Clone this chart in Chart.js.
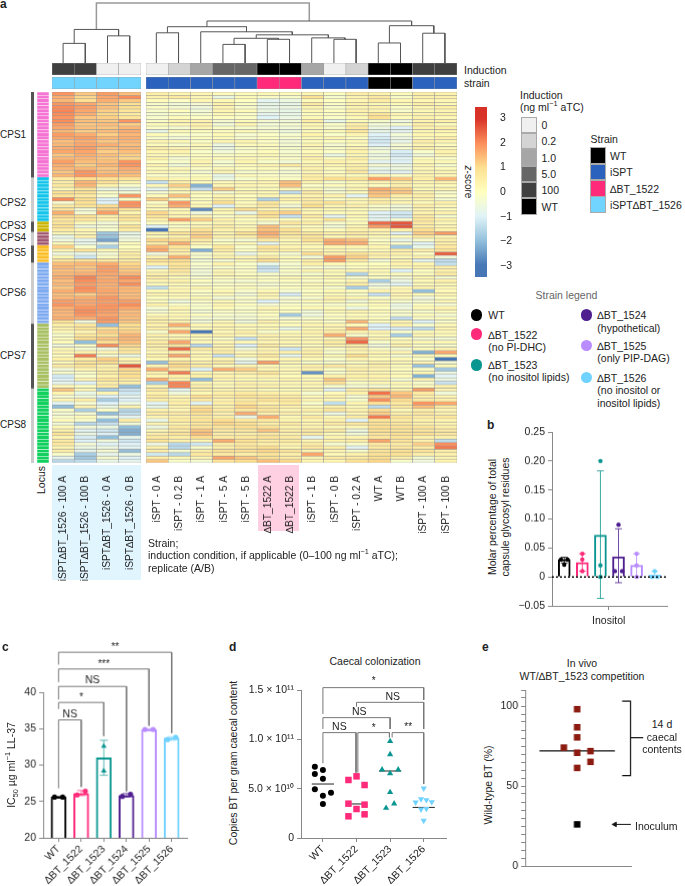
<!DOCTYPE html>
<html>
<head>
<meta charset="utf-8">
<title>Inositol lipids and capsule</title>
<script src="https://cdn.jsdelivr.net/npm/chart.js@4"></script>
<style>
html, body { margin: 0; background: #fff; }
#page { position: relative; width: 685px; height: 886px; overflow: hidden; font-family: "Liberation Sans", Arial, sans-serif; color: #222; }
canvas { position: absolute; }
.t { position: absolute; white-space: nowrap; line-height: 1; }
.box { position: absolute; box-sizing: border-box; }
sup { font-size: 70%; line-height: 0; }
sub { font-size: 70%; line-height: 0; }
</style>
</head>
<body>
<div id="page"></div>
<script>
// ---------- panel a: column info ----------
const leftColumns = ["iSPT∆BT_1526 - 100 A", "iSPT∆BT_1526 - 100 B", "iSPT∆BT_1526 - 0 A", "iSPT∆BT_1526 - 0 B"];
const rightColumns = ["iSPT - 0 A", "iSPT - 0.2 B", "iSPT - 1 A", "iSPT - 5 A", "iSPT - 5 B", "∆BT_1522 A", "∆BT_1522 B",
    "iSPT - 1 B", "iSPT - 0 B", "iSPT - 0.2 A", "WT A", "WT B", "iSPT - 100 A", "iSPT - 100 B"];
const leftInduction = ["100", "100", "0", "0"];
const rightInduction = ["0", "0.2", "1.0", "5.0", "5.0", "WT", "WT", "1.0", "0", "0.2", "WT", "WT", "100", "100"];
const leftStrain = ["iSPT∆BT_1526", "iSPT∆BT_1526", "iSPT∆BT_1526", "iSPT∆BT_1526"];
const rightStrain = ["iSPT", "iSPT", "iSPT", "iSPT", "iSPT", "∆BT_1522", "∆BT_1522", "iSPT", "iSPT", "iSPT", "WT", "WT", "iSPT", "iSPT"];

// dendrogram, hclust style: leaves are 0..17, negative numbers point to an earlier merge (-1 is the first)
const dendroMerges = [
    [0, 1, 19.3], [2, 3, 26.7], [-1, -2, 33],
    [4, 5, 29.7], [7, 8, 18.3], [9, 10, 23.3], [-5, -6, 24.3], [12, 13, 23.3], [11, -8, 24.7], [-7, -9, 27.7], [6, -10, 30.7], [-4, -11, 35.7],
    [14, 15, 19.7], [16, 17, 29.3], [-13, -14, 36.7], [-12, -15, 41.3], [-3, -16, 59]
];

// z-score x 10, per row: 4 left columns then 14 right columns
const zCPS1 = [
    [19,13,18,14, 5,3,3,1,1,2,1,3,0,5,4,1,5,4],
    [16,11,17,20, 4,6,2,-6,1,-1,-2,9,-2,3,6,-1,4,4],
    [15,10,16,13, 1,-1,3,2,0,-9,-6,1,0,3,6,3,3,3],
    [19,17,13,9, -2,-4,-3,4,-1,-7,-7,6,-1,4,2,1,5,2],
    [20,18,14,10, -1,-3,-5,3,-2,-7,-6,3,-2,3,4,-1,3,5],
    [21,17,12,8, -2,0,-4,3,1,-6,-7,2,0,4,3,-2,2,3],
    [20,16,11,6, -3,-2,-2,2,-1,-8,-7,0,-1,3,8,3,3,4],
    [19,13,12,8, -2,1,-1,0,-1,-10,-6,2,-1,2,10,1,4,2],
    [20,14,13,19, -1,3,3,-3,1,-3,-4,5,-7,1,-2,-5,3,4],
    [18,13,14,12, 1,2,4,-4,3,-4,-3,3,-1,5,-4,-2,5,1],
    [17,14,13,15, -1,-3,3,-1,-2,-3,-4,2,-2,6,-6,-10,4,5],
    [15,12,14,16, -7,1,0,0,1,-2,-5,1,1,7,-7,-8,2,3],
    [18,16,12,15, 2,-2,-2,2,-3,-1,-3,4,-2,3,-10,-4,3,2],
    [17,18,15,16, -2,-4,0,1,-2,0,-2,2,3,0,-11,-6,2,5],
    [14,16,13,15, 3,2,-1,3,3,-1,-4,1,0,2,-12,-7,5,3],
    [15,17,16,14, 1,-2,2,-6,1,1,-3,3,-3,1,-10,-3,3,1],
    [16,18,14,15, 5,3,1,-6,-1,0,-2,2,-1,3,-5,-3,5,2],
    [17,17,12,14, 3,4,-2,-4,-2,1,-3,1,-1,4,-4,-11,-2,4],
    [13,16,14,12, 2,1,0,-1,1,2,-2,3,-6,2,-6,-12,-4,3],
    [15,15,13,11, 4,-3,1,1,2,1,-1,5,1,5,-4,-9,1,-1],
    [18,14,14,19, 0,-2,3,-3,3,-2,-4,2,4,3,-9,-10,2,2],
    [16,12,15,19, 3,-4,2,-2,1,3,6,3,3,4,-3,-6,3,-2],
    [15,15,13,16, 1,2,-1,2,0,1,-2,4,1,5,-7,-5,2,1],
    [13,19,14,15, 2,1,-3,3,-2,-1,-3,3,0,6,-8,-9,3,3],
    [15,19,16,14, -1,-2,0,-7,1,-1,-2,5,2,1,2,-1,4,2]
];
const zCPS2 = [
    [6,10,9,8, 5,2,2,-6,-2,1,-1,6,10,9,18,13,5,15],
    [5,15,9,3, -13,5,1,2,2,3,14,3,-2,2,3,5,3,4],
    [7,15,4,-2, 2,12,-22,3,3,2,14,-1,1,2,0,4,2,1],
    [2,8,-6,-7, -8,3,-13,12,1,1,2,2,-3,3,16,12,2,3],
    [9,9,-1,-3, -3,2,1,-3,3,2,-14,6,-2,1,14,13,4,-2],
    [8,6,-2,19, 1,14,0,3,0,3,2,4,4,-9,13,5,5,-1],
    [20,10,-10,0, 12,1,0,4,1,-16,4,5,-1,2,4,2,3,-3],
    [-3,9,-10,20, -1,19,1,10,1,8,1,7,9,3,6,3,2,5],
    [6,8,10,19, 3,16,2,-10,2,7,-4,10,3,4,-1,-4,5,2],
    [8,-4,12,8, 1,1,-27,3,10,3,4,2,2,1,-2,-4,3,0],
    [16,-3,18,3, 11,3,-5,2,-7,10,12,3,1,2,-10,-12,4,4],
    [11,9,5,9, 8,3,3,-1,3,9,-13,6,-8,2,-9,-12,6,-2],
    [7,7,3,8, 4,18,12,4,0,2,1,3,9,1,-8,-3,7,4]
];
const zCPS3 = [
    [8,1,-4,2, 0,1,1,3,1,-3,7,5,-2,1,24,26,6,2],
    [9,-5,-3,8, -10,-1,3,5,2,14,2,1,-4,3,18,26,5,3],
    [6,3,-2,6, -30,3,9,4,4,14,9,3,1,4,4,5,10,4]
];
const zCPS4 = [
    [2,2,-18,-7, 3,8,11,3,9,16,8,7,4,6,3,-9,12,18],
    [-7,4,-19,-6, 2,4,12,4,5,14,6,8,2,4,2,1,7,3],
    [-5,-8,-24,-4, 11,10,6,-2,-3,6,2,9,16,14,-1,-7,-2,5],
    [2,-7,-6,1, 6,16,3,1,2,-8,2,4,17,16,1,-2,-9,5]
];
const zCPS5 = [
    [12,-2,-17,0, 15,8,-1,7,-2,9,3,2,3,3,3,-18,-7,7],
    [3,8,2,3, 17,6,-22,6,0,7,5,3,3,1,2,5,5,8],
    [-5,-7,-3,6, -5,5,-2,2,-7,1,-3,10,5,9,5,4,0,25],
    [2,-12,-1,5, 4,16,-2,4,3,6,1,-4,18,12,4,2,4,-4],
    [8,9,7,6, 9,10,-4,-3,2,10,0,5,18,6,-4,3,-8,-14]
];
const zCPS6 = [
    [14,15,16,11, 5,8,-2,4,-2,-7,-3,5,2,1,0,4,3,-14],
    [15,13,18,12, -10,8,-3,-2,-1,-14,-2,-2,-3,0,1,2,4,5],
    [14,14,18,13, 2,7,-4,2,-1,-12,-1,3,2,3,2,-10,0,4],
    [15,16,17,15, 4,5,-4,3,0,-2,-2,-2,1,-16,1,1,1,6],
    [16,21,16,20, 6,1,-2,1,1,0,2,1,3,-2,0,-3,3,-3],
    [14,20,17,17, 3,4,0,-2,-3,-1,0,-1,0,3,-17,-6,2,4],
    [15,18,16,20, 1,2,-2,-1,-1,-3,-1,2,2,5,-6,-9,2,3],
    [13,20,16,15, -14,2,3,0,1,-1,0,1,-2,-17,-3,2,4,2],
    [16,19,17,15, 2,3,-1,2,-2,2,-3,-1,2,1,4,3,-20,1],
    [14,12,16,14, 3,2,-1,1,-4,3,-11,0,1,-1,-13,3,1,3],
    [15,16,19,15, 0,1,2,-4,-1,2,-3,-2,4,3,-1,2,-5,0],
    [18,17,18,18, 1,-5,-1,2,-2,-10,-2,1,3,-4,2,-2,-3,2],
    [19,17,19,20, 4,-1,-2,3,0,-3,-1,-1,-2,0,1,-6,0,-3],
    [16,19,19,17, -3,3,-2,1,-2,3,0,2,1,-6,0,-5,2,4],
    [15,20,18,14, -3,1,-3,-1,-1,1,0,-4,2,3,1,-2,-2,1],
    [15,19,17,15, 2,3,0,-2,-3,0,-18,-5,-1,1,-1,-2,1,-3],
    [16,16,19,14, 4,2,-3,-3,-3,-1,-3,-2,0,2,0,-14,-1,0],
    [9,-5,18,13, 5,4,-4,2,-5,4,0,1,-1,15,1,3,-10,-2]
];
const zCPS7 = [
    [5,7,-20,10, 4,16,2,3,2,2,1,3,3,1,-10,4,-2,2],
    [4,8,9,10, 5,4,1,3,1,2,-7,2,3,16,-10,-11,-14,3],
    [2,3,12,12, -2,17,-30,2,5,-2,1,4,6,4,4,-2,2,2],
    [-2,7,9,15, 4,2,3,4,2,4,3,3,16,-2,1,-17,3,1],
    [1,10,13,15, 3,4,1,-1,-13,3,2,2,2,19,3,0,-3,-4],
    [1,-20,10,14, 6,17,2,3,2,3,3,3,6,24,-2,3,2,2],
    [-5,-1,20,11, 5,8,-15,3,-10,6,2,1,4,6,-5,4,-1,-2],
    [2,-3,-5,8, 4,24,6,4,-4,3,-12,3,-1,4,-1,-3,1,3],
    [3,4,3,7, 2,5,2,6,2,4,4,5,-2,3,3,3,-22,17],
    [0,22,-3,-6, 4,17,3,-13,3,7,-8,4,2,10,2,-3,2,1],
    [5,6,12,3, 2,3,2,4,-5,3,3,2,-2,3,1,2,-2,-30],
    [1,8,10,5, -19,9,4,5,-8,18,2,-2,-2,0,4,2,3,-3],
    [6,8,4,26, 3,11,6,1,3,2,1,5,7,3,5,1,-19,1],
    [-4,3,5,11, 16,6,-10,16,12,3,2,4,-1,5,3,0,-1,-18],
    [-2,-1,6,9, 4,22,3,3,5,8,2,-26,-2,3,3,1,2,-6],
    [-12,-2,4,10, 3,5,5,4,3,4,1,2,4,5,4,2,-22,-9],
    [-10,3,8,6, 16,4,-20,3,2,2,3,2,13,3,3,-3,3,-6],
    [-8,-10,5,5, -17,21,3,2,4,3,2,3,9,-1,2,2,-2,-13],
    [2,0,6,-20, 3,21,5,2,4,4,2,2,-2,-3,-3,1,1,4]
];
const zCPS8 = [
    [13,2,-17,-13, 6,-8,4,3,3,1,1,3,-9,5,8,4,18,3],
    [3,-7,3,-12, 4,-5,2,5,6,5,3,-3,1,4,23,13,6,-5],
    [-3,-4,-10,-8, 7,3,10,6,9,8,6,2,4,-3,13,15,5,3],
    [3,5,-17,-10, 5,4,6,4,6,9,7,3,2,-2,20,10,6,4],
    [-9,-3,-10,-6, -9,5,-10,5,8,4,6,-2,-14,3,9,7,19,17],
    [-20,3,-6,3, -7,3,8,4,11,7,4,1,4,1,-14,6,14,6],
    [-1,-17,-1,-16, 4,3,11,6,7,8,3,5,8,4,10,2,5,3],
    [-3,-3,-20,-14, 6,6,9,4,16,5,5,2,-6,3,12,5,7,4],
    [-2,1,-6,-8, 3,5,7,5,-6,16,2,6,2,6,22,8,6,7],
    [1,-2,-20,6, -7,6,8,10,7,7,3,3,4,-10,8,6,4,3],
    [-4,-15,-13,-4, 3,4,7,11,9,5,6,3,6,7,9,7,4,3],
    [2,-4,-6,-20, -6,7,8,8,10,9,4,4,2,2,10,9,8,5],
    [4,-9,-12,-22, 2,6,13,6,7,13,5,6,6,-5,9,8,7,6],
    [8,-6,-10,-22, 5,8,14,5,5,6,4,6,1,-4,8,9,9,7],
    [3,-11,-20,-8, 7,5,10,6,7,9,6,-8,3,3,7,8,4,4],
    [6,-10,-5,-12, 8,4,3,16,9,6,6,3,4,5,17,8,4,-14],
    [7,-4,-10,-10, -6,-15,-12,6,7,5,4,6,-3,-2,7,6,12,20],
    [3,-6,-6,-9, 4,-15,-2,5,8,10,3,7,5,-9,6,7,6,22],
    [5,-8,-3,-20, 5,-3,5,9,9,11,8,3,3,-2,8,9,8,5],
    [-2,-17,-8,-6, -12,-15,7,6,5,8,5,17,2,4,9,9,5,4],
    [-8,-18,-3,-10, 5,2,3,17,13,9,6,3,6,6,10,5,-3,3],
    [-15,-14,-7,-8, 13,-2,-3,8,10,14,11,3,3,9,11,-2,-5,4]
];
const zByLocus = [zCPS1, zCPS2, zCPS3, zCPS4, zCPS5, zCPS6, zCPS7, zCPS8];
const locusNames = ["CPS1", "CPS2", "CPS3", "CPS4", "CPS5", "CPS6", "CPS7", "CPS8"];
const locusColors = ["#f573d2", "#12c4ea", "#cbb400", "#a0566e", "#fbbd22", "#7da9f0", "#a8bf62", "#10d05e"];
const locusTickColors = ["#555", "#ccc", "#555", "#ccc", "#555", "#ccc", "#555", "#ccc"];

const colorbarTicks = [3, 2, 1, 0, -1, -2, -3];
const inductionLegend = ["0", "0.2", "1.0", "5.0", "100", "WT"];
const inductionColors = ["#f0f0f0", "#d4d4d4", "#a6a6a6", "#666666", "#404040", "#000000"];
const strainLegend = ["WT", "iSPT", "∆BT_1522", "iSPT∆BT_1526"];
const strainColors = ["#000000", "#2b62bd", "#ff2a7a", "#70d4ff"];

// ---------- panel b: inositol ----------
const bColors = ["#000000", "#ff2a7a", "#0a9690", "#4f1f8f", "#b98cff", "#70d2ff"];
const bMeans = [0.03, 0.025, 0.072, 0.035, 0.02, 0.003];
const bLow = [0.024, 0.01, -0.037, -0.01, 0, -0.001];
const bHigh = [0.034, 0.04, 0.183, 0.083, 0.04, 0.01];
const bPoints = [[0.03, 0.03, 0.021], [0.04, 0.03, 0.01], [0.2, 0.02, 0], [0.09, 0.01, 0.01], [0.04, 0.02, 0], [0.01, 0, 0]];
const bJitter = [[-0.18, 0.18, 0], [0, 0, 0], [0, 0, 0], [0, -0.2, 0.2], [0, 0, 0], [0, -0.15, 0.15]];
const bTicks = [-0.05, 0, 0.05, 0.1, 0.15, 0.2, 0.25];

// ---------- panel c: IC50 ----------
const cStrains = ["WT", "∆BT_1522", "∆BT_1523", "∆BT_1524", "∆BT_1525", "∆BT_1526"];
const cColors = ["#000000", "#ff2a7a", "#0a9690", "#4f1f8f", "#b98cff", "#70d2ff"];
const cMeans = [25.6, 26.1, 31, 25.8, 34.9, 33.7];
const cPoints = [[25.6, 25.6], [25.9, 26.4], [32.6, 29.2], [25.7, 26], [34.9, 34.9], [33.5, 33.8]];
const cLow = [25.5, 25.8, 28.6, 25.6, 34.8, 33.4];
const cHigh = [25.7, 26.5, 33.4, 26.1, 35, 33.9];
const cTicks = [20, 25, 30, 35, 40];
// each bracket: left stem end, top, right stem end, right x, label
const cBrackets = [
    { right: 1, leftEnd: 26.8, top: 36.2, rightEnd: 27, text: "NS", ty: 37, size: 10.5 },
    { right: 2, leftEnd: 37.7, top: 38.6, rightEnd: 34, text: "*", ty: 39.3, size: 10 },
    { right: 3, leftEnd: 39, top: 40.8, rightEnd: 26.4, text: "NS", ty: 41.7, size: 10.5 },
    { right: 4, leftEnd: 41.4, top: 43.2, rightEnd: 35.4, text: "***", ty: 43.8, size: 10 },
    { right: 5, leftEnd: 43.8, top: 45.5, rightEnd: 34.4, text: "**", ty: 46.2, size: 10 }
];

// ---------- panel d: caecal colonization, in units of 1e10 ----------
const dStrains = ["WT", "∆BT_1522", "∆BT_1523", "∆BT_1526"];
const dWT = [7.23, 6.89, 6.49, 6.01, 4.93, 4.59, 4.29, 3.45];
const d1522 = [6.25, 5.88, 5.37, 3.48, 3.38, 2.94, 2.4, 2.2];
const d1523 = [9.8, 8.48, 6.93, 6.93, 6.55, 4.63, 3.48, 3.04];
const d1526 = [5.03, 3.95, 3.85, 3.61, 3.65, 2.9, 2.97, 1.76];
const dJitterWT = [-0.24, 0, -0.24, 0, -0.24, 0.24, 0, 0];
const dJitter1522 = [0, -0.24, 0.24, -0.24, 0.24, 0, 0.24, -0.24];
const dJitter1523 = [0, 0, -0.24, 0.24, 0, 0, 0.12, -0.12];
const dJitter1526 = [0, -0.08, 0.08, -0.24, 0.24, -0.08, 0.08, 0];
const dMedians = [5.47, 3.45, 6.79, 3.1];
const dMedianHalf = [0.33, 0.16, 0.33, 0.33];
const dTicks = [0, 5, 10, 15];
const dTickLabels = ["0", "5.0 × 10¹⁰", "1.0 × 10¹¹", "1.5 × 10¹¹"];
const dBracketLines = [
    [[0, 12.57], [0, 15.24], [3, 15.24], [3, 13.99]],
    [[1, 13.31], [1, 13.75], [3, 13.75], [3, 11.05]],
    [[0, 11.05], [0, 12.2], [2, 12.2], [2, 11.05]],
    [[0, 7.57], [0, 10.68], [0.985, 10.68], [0.985, 6.62]],
    [[1.04, 6.62], [1.04, 10.68], [1.98, 10.68], [1.98, 10.2]],
    [[2.06, 10.2], [2.06, 10.68], [3, 10.68], [3, 5.47]]
];
const dSigLabels = [
    { x: 1.51, y: 15.84, text: "*", size: 10 }, { x: 2.08, y: 14.29, text: "NS", size: 10.5 },
    { x: 1.08, y: 12.8, text: "NS", size: 10.5 }, { x: 0.49, y: 11.28, text: "NS", size: 10.5 },
    { x: 1.51, y: 11.1, text: "*", size: 10 }, { x: 2.54, y: 11.18, text: "**", size: 10 }
];

// ---------- panel e: competition ----------
const eValues = [98, 86.7, 80.4, 74, 70.8, 71.8, 65.1, 61.3];
const eOffsets = [0, 0, 0, -1, 0, 1, 1, 0];
const eMean = 72;
const eInoculum = 26;
const eTicks = [0, 5, 10, 15, 20, 25, 30, 35, 40, 45, 50, 55, 60, 65, 70, 75, 80, 85, 90, 95, 100, 105, 110];
const eTickLabels = [0, 50, 100];

// ---------- helpers ----------
Chart.defaults.font.family = '"Liberation Sans", Arial, sans-serif';
Chart.defaults.font.size = 10.5;
Chart.defaults.color = "#222";
Chart.defaults.animation = false;
Chart.defaults.responsive = false;
Chart.defaults.devicePixelRatio = 1;
Chart.defaults.plugins.legend.display = false;
Chart.defaults.plugins.tooltip.enabled = false;

const page = document.getElementById("page");

function addCanvas(left, top, width, height) {
    const c = document.createElement("canvas");
    c.width = width;
    c.height = height;
    c.style.left = left + "px";
    c.style.top = top + "px";
    c.style.width = width + "px";
    c.style.height = height + "px";
    page.appendChild(c);
    return c.getContext("2d");
}

function note(html, x, y, opt) {
    opt = opt || {};
    const d = document.createElement("div");
    d.className = "t";
    d.innerHTML = html;
    d.style.left = x + "px";
    d.style.top = y + "px";
    d.style.fontSize = (opt.size || 10.5) + "px";
    if (opt.bold) d.style.fontWeight = "bold";
    if (opt.color) d.style.color = opt.color;
    const tx = opt.center || opt.rotate ? "-50%" : "0";
    d.style.transform = "translate(" + tx + ",-50%)" + (opt.rotate ? " rotate(" + opt.rotate + "deg)" : "");
    page.appendChild(d);
}

function box(left, top, width, height, color, border) {
    const d = document.createElement("div");
    d.className = "box";
    d.style.cssText = "left:" + left + "px;top:" + top + "px;width:" + width + "px;height:" + height + "px;background:" + color + ";" + (border ? "border:1px solid " + border + ";" : "");
    page.appendChild(d);
    return d;
}

// force an axis to a fixed thickness so the plot area lands where we want it
function fixAxis(size) {
    return function (scale) {
        if (scale.isHorizontal()) scale.height = size;
        else scale.width = size;
        scale.paddingLeft = scale.paddingRight = scale.paddingTop = scale.paddingBottom = 0;
    };
}

function ticksAt(values) {
    return function (scale) {
        scale.ticks = values.map(v => ({ value: v }));
    };
}

// RdYlBu style scale of the heatmap
const zStops = [[-3, [69, 117, 180]], [-2, [145, 191, 219]], [-1, [224, 243, 248]], [0, [255, 255, 191]], [1, [254, 224, 144]], [2, [252, 141, 89]], [3, [215, 48, 39]]];
function zColor(z) {
    z = Math.max(-3, Math.min(3, z));
    for (let i = 1; i < zStops.length; i++) {
        if (z <= zStops[i][0]) {
            const a = zStops[i - 1], b = zStops[i], f = z - a[0];
            const c = a[1].map((v, k) => Math.round(v + (b[1][k] - v) * f));
            return "rgb(" + c.join(",") + ")";
        }
    }
}

// stacked bars of value 1: one dataset per row, one bar per column
function cellChart(left, top, width, height, labels, rows, border, labelSpace) {
    const ctx = addCanvas(left, top, width, height + (labelSpace || 0));
    return new Chart(ctx, {
        type: "bar",
        data: {
            labels: labels,
            datasets: rows.map(row => ({
                data: row.map(() => 1),
                backgroundColor: row,
                borderColor: border,
                borderWidth: 0.55,
                borderSkipped: false,
                barPercentage: 1,
                categoryPercentage: 1
            }))
        },
        options: {
            layout: { padding: 0 },
            scales: {
                x: {
                    stacked: true,
                    display: !!labelSpace,
                    afterFit: fixAxis(labelSpace || 0),
                    grid: { display: false },
                    border: { display: false },
                    ticks: { autoSkip: false, minRotation: 90, maxRotation: 90, padding: 5, font: { size: 10.2 } }
                },
                y: { stacked: true, display: false, reverse: true, min: 0, max: rows.length }
            }
        }
    });
}

function lineSet(points, color, width, extra) {
    return Object.assign({
        type: "scatter",
        showLine: true,
        data: points.map(p => ({ x: p[0], y: p[1] })),
        borderColor: color,
        borderWidth: width,
        pointRadius: 0,
        clip: false,
        order: 2
    }, extra || {});
}

function pointSet(points, color, style, radius, rotation) {
    return {
        type: "scatter",
        data: points,
        backgroundColor: color,
        borderWidth: 0,
        pointStyle: style,
        pointRadius: radius,
        rotation: rotation || 0,
        clip: false,
        order: 1
    };
}

// draws short labels at data positions, from options.plugins.sigLabels
const sigLabelPlugin = {
    id: "sigLabels",
    afterDatasetsDraw(chart, args, opts) {
        const c = chart.ctx;
        (opts.items || []).forEach(l => {
            c.save();
            c.fillStyle = "#222";
            c.font = l.size + 'px "Liberation Sans", Arial, sans-serif';
            c.textAlign = "center";
            c.textBaseline = "middle";
            c.fillText(l.text, chart.scales.x.getPixelForValue(l.x), chart.scales.y.getPixelForValue(l.y));
            c.restore();
        });
    }
};

// plot area given in page pixels, margins round it for axes
function panelChart(area, m, datasets, xOpts, yOpts, labels) {
    const ctx = addCanvas(area.left - m.y, area.top - m.top, area.right - area.left + m.y + m.right, area.bottom - area.top + m.top + m.x);
    const xTicks = Object.assign({ autoSkip: false, padding: 2, color: "#222", includeBounds: false }, xOpts.ticks);
    const yTicks = Object.assign({ autoSkip: false, padding: 3, color: "#222", includeBounds: false }, yOpts.ticks);
    return new Chart(ctx, {
        type: "bar",
        data: { datasets: datasets },
        plugins: [sigLabelPlugin],
        options: {
            layout: { padding: { top: m.top, right: m.right, left: 0, bottom: 0 } },
            plugins: { sigLabels: { items: labels || [] } },
            scales: {
                x: Object.assign({
                    type: "linear",
                    offset: false,
                    afterFit: fixAxis(m.x),
                    grid: { drawOnChartArea: false, offset: false, color: "#888", tickLength: 4 },
                    border: { color: "#888" }
                }, xOpts, { ticks: xTicks }),
                y: Object.assign({
                    afterFit: fixAxis(m.y),
                    grid: { drawOnChartArea: false, color: "#888", tickLength: 4 },
                    border: { color: "#888" }
                }, yOpts, { ticks: yTicks })
            }
        }
    });
}

// ---------- panel a ----------
box(52, 465, 89, 115, "#e0f5fe");
box(258, 465, 41, 66, "#ffcfe2");

const allRows = zByLocus.flat();
const leftCells = allRows.map(r => r.slice(0, 4).map(v => zColor(v / 10)));
const rightCells = allRows.map(r => r.slice(4).map(v => zColor(v / 10)));
const inductionColor = v => inductionColors[inductionLegend.indexOf(v)];
const strainColor = v => strainColors[strainLegend.indexOf(v)];

const heatTop = 92.4, heatHeight = 370.4;
cellChart(52, 63, 89, 12, leftColumns, [leftInduction.map(inductionColor)], "#999");
cellChart(145.5, 63, 311, 12, rightColumns, [rightInduction.map(inductionColor)], "#999");
cellChart(52, 77, 89, 12, leftColumns, [leftStrain.map(strainColor)], "#999");
cellChart(145.5, 77, 311, 12, rightColumns, [rightStrain.map(strainColor)], "#999");
cellChart(52, heatTop, 89, heatHeight, leftColumns, leftCells, "#999", 124);
cellChart(145.5, heatTop, 311, heatHeight, rightColumns, rightCells, "#999", 124);

// locus strip and the grey guide next to it
const locusRows = [];
zByLocus.forEach((rows, i) => rows.forEach(() => locusRows.push([locusColors[i]])));
cellChart(37, heatTop, 12, heatHeight, ["Locus"], locusRows, "rgba(255,255,255,0.45)");

const guideCtx = addCanvas(31, heatTop, 3, heatHeight);
new Chart(guideCtx, {
    type: "bar",
    data: {
        labels: ["Locus"],
        datasets: zByLocus.map((rows, i) => ({
            data: [rows.length],
            backgroundColor: locusTickColors[i],
            barPercentage: 1,
            categoryPercentage: 1
        }))
    },
    options: {
        scales: {
            x: { stacked: true, display: false },
            y: { stacked: true, display: false, reverse: true, min: 0, max: allRows.length }
        }
    }
});

// dendrogram
const leafX = i => i + 0.5 + (i >= 4 ? 0.2 : 0);
const nodes = [];
const childPos = n => n >= 0 ? { x: leafX(n), h: 0 } : nodes[-n - 1];
const dendroSets = dendroMerges.map((m, k) => {
    const a = childPos(m[0]), b = childPos(m[1]);
    nodes.push({ x: (a.x + b.x) / 2, h: m[2] });
    const isRoot = k === dendroMerges.length - 1;
    const pts = [[a.x, a.h], [a.x, m[2]], [b.x, m[2]], [b.x, b.h]];
    return lineSet(pts, isRoot ? "#999" : "#555", isRoot ? 1.5 : 1);
});
new Chart(addCanvas(52, 2, 404, 61), {
    type: "scatter",
    data: { datasets: dendroSets },
    options: {
        layout: { padding: 0 },
        scales: {
            x: { type: "linear", min: 0, max: 18.2, display: false },
            y: { min: 0, max: 60, display: false }
        }
    }
});

// colour bar
new Chart(addCanvas(475, 107, 40, 170), {
    type: "bar",
    data: {
        labels: ["z"],
        datasets: [{
            data: [[-3.45, 3.45]],
            barPercentage: 1,
            categoryPercentage: 1,
            backgroundColor: function (c) {
                const y = c.chart.scales.y;
                if (!y || !c.chart.chartArea) return "#fff";
                const g = c.chart.ctx.createLinearGradient(0, y.getPixelForValue(3.45), 0, y.getPixelForValue(-3.45));
                for (let i = 0; i <= 14; i++) {
                    const z = 3.45 - i * 6.9 / 14;
                    g.addColorStop(i / 14, zColor(z));
                }
                return g;
            }
        }]
    },
    options: {
        layout: { padding: 0 },
        scales: {
            x: { display: false },
            y: {
                position: "right",
                min: -3.45,
                max: 3.45,
                afterFit: fixAxis(28),
                afterBuildTicks: ticksAt(colorbarTicks),
                grid: { display: false },
                border: { display: false },
                ticks: { autoSkip: false, padding: 5, color: "#222", callback: v => v < 0 ? "−" + Math.abs(v) : String(v) }
            }
        }
    }
});

note("<i>z</i>-score", 468, 182, { rotate: 90, size: 10 });
note("Induction", 464, 70);
note("strain", 464, 83);
note("Locus", 41, 480, { rotate: -90 });
note("Strain;", 148, 542.5);
note("induction condition, if applicable (0–100 ng ml<sup>−1</sup> aTC);", 148, 555);
note("replicate (A/B)", 148, 567.5);
note("a", 0, 4, { bold: true, size: 12 });

const locusLabelY = [135, 203, 225.5, 238, 253, 292.6, 355.7, 425];
locusNames.forEach((n, i) => note(n, 0, locusLabelY[i], { size: 10 }));

// induction and strain legends
note("Induction", 520, 94.5);
note("(ng ml<sup>−1</sup> aTC)", 520, 107);
inductionLegend.forEach((l, i) => {
    box(520.5, 116.5 + i * 16.35, 16.5, 16.5, inductionColors[i], "#aaa");
    note(l, 541.5, 125 + i * 16.35);
});
note("Strain", 590.5, 139);
strainLegend.forEach((l, i) => {
    box(589.5, 147.3 + i * 16.35, 16.5, 16.5, strainColors[i], "#aaa");
    note(l, 610, 155.8 + i * 16.35);
});

// strain legend with dots
note("Strain legend", 535.5, 294.5, { color: "#666" });
[[476.7, 315, 0], [476.7, 334, 1], [476.7, 365, 2], [586.3, 315, 3], [586.3, 345.7, 4], [586.3, 377.3, 5]].forEach(d => {
    box(d[0] - 5.7, d[1] - 5.7, 11.4, 11.4, bColors[d[2]]).style.borderRadius = "50%";
});
note("WT", 488.3, 315);
note("∆BT_1522", 488.3, 334.7);
note("(no PI-DHC)", 488.3, 347);
note("∆BT_1523", 488.3, 365);
note("(no inositol lipids)", 488.3, 377);
note("∆BT_1524", 597.3, 315);
note("(hypothetical)", 597.3, 327.5);
note("∆BT_1525", 597.3, 345.7);
note("(only PIP-DAG)", 597.3, 358);
note("∆BT_1526", 597.3, 377.7);
note("(no inositol or", 597.3, 390);
note("inositol lipids)", 597.3, 403);

// ---------- panel b ----------
const bSets = [{
    type: "bar",
    data: bMeans.map((v, i) => ({ x: i, y: v })),
    backgroundColor: "#fff",
    borderColor: bColors,
    borderWidth: 2,
    barThickness: 12,
    order: 4
}];
bMeans.forEach((v, i) => {
    bSets.push(lineSet([[i, bLow[i]], [i, bHigh[i]]], bColors[i] + "cc", 1, { pointStyle: "line", pointRadius: 3.5, pointBorderColor: bColors[i] + "cc", pointBorderWidth: 1 }));
    bSets.push(pointSet(bPoints[i].map((y, k) => ({ x: i + bJitter[i][k], y: y })), bColors[i], "circle", 2.2));
});
bSets.push(lineSet([[-0.68, 0], [5.68, 0]], "#000", 1.5, { borderDash: [2, 2], order: 0 }));
panelChart({ left: 551.7, top: 429.3, right: 670, bottom: 606 }, { y: 34, x: 28, top: 2, right: 2 }, bSets,
    { min: -0.677, max: 5.68, afterBuildTicks: ticksAt([2.46]), ticks: { callback: () => "Inositol", padding: 5 } },
    { min: -0.05, max: 0.25, afterBuildTicks: ticksAt(bTicks), ticks: { callback: v => v === 0 ? "0" : (v < 0 ? "−" : "") + Math.abs(v).toFixed(2) } });
note("Molar percentage of total", 492, 517, { rotate: -90 });
note("capsule glycosyl residues", 505, 517, { rotate: -90 });
note("b", 487, 425, { bold: true, size: 12 });

// ---------- panel c ----------
const cSets = [{
    type: "bar",
    data: cMeans.map((v, i) => ({ x: i, y: v })),
    backgroundColor: "#fff",
    borderColor: cColors,
    borderWidth: 2,
    barThickness: 15,
    order: 4
}];
cMeans.forEach((v, i) => {
    cSets.push(lineSet([[i, cLow[i]], [i, cHigh[i]]], cColors[i] + "aa", 1, { pointStyle: "line", pointRadius: 4, pointBorderColor: cColors[i] + "aa", pointBorderWidth: 1 }));
    const jitter = i === 2 ? [0, 0] : [-0.18, 0.18];
    cSets.push(pointSet(cPoints[i].map((y, k) => ({ x: i + jitter[k], y: y })), cColors[i], i === 2 ? "triangle" : "circle", i === 2 ? 3.2 : 2.6));
});
cBrackets.forEach(b => {
    cSets.push(lineSet([[0, b.leftEnd], [0, b.top], [b.right, b.top], [b.right, b.rightEnd]], "#777", 1, { order: 3 }));
});
const cLabels = cBrackets.map(b => ({ x: (b.right) / 2, y: b.ty, text: b.text, size: b.size }));
panelChart({ left: 43.3, top: 692.3, right: 189.7, bottom: 838 }, { y: 26, x: 47, top: 60, right: 2 }, cSets,
    { min: -0.683, max: 5.68, afterBuildTicks: ticksAt(cStrains.map((s, i) => i)), ticks: { minRotation: 45, maxRotation: 45, padding: 1, callback: v => cStrains[v] } },
    { min: 20, max: 40, afterBuildTicks: ticksAt(cTicks) },
    cLabels);
note("IC<sub>50</sub> µg ml<sup>−1</sup> LL-37", 10.5, 765, { rotate: -90 });
note("c", 2, 647, { bold: true, size: 12 });

// ---------- panel d ----------
const dRed = "#ff2a7a", dTeal = "#0a9690", dSky = "#70d2ff";
const dAt = (vals, jit, k) => vals.map((v, i) => ({ x: k + jit[i], y: v }));
const dSets = [
    pointSet(dAt(dWT, dJitterWT, 0), "#000", "circle", 3),
    pointSet(dAt(d1522, dJitter1522, 1), dRed, "rect", 4.6),
    pointSet(dAt(d1523, dJitter1523, 2), dTeal, "triangle", 3.6),
    pointSet(dAt(d1526, dJitter1526, 3), dSky, "triangle", 3.6, 180)
];
dMedians.forEach((m, k) => dSets.push(lineSet([[k - dMedianHalf[k], m], [k + dMedianHalf[k], m]], "#222", 1)));
dBracketLines.forEach(b => dSets.push(lineSet(b, "#777", 1, { order: 3 })));
panelChart({ left: 301, top: 690, right: 449, bottom: 838 }, { y: 58, x: 48, top: 20, right: 2 }, dSets,
    { min: -0.652, max: 3.675, afterBuildTicks: ticksAt(dStrains.map((s, i) => i)), ticks: { minRotation: 45, maxRotation: 45, padding: 1, callback: v => dStrains[v] } },
    { min: 0, max: 15, afterBuildTicks: ticksAt(dTicks), ticks: { callback: v => dTickLabels[dTicks.indexOf(v)] } },
    dSigLabels);
note("Copies BT per gram caecal content", 233, 763, { rotate: -90 });
note("Caecal colonization", 375, 661, { center: true });
note("d", 229, 647, { bold: true, size: 12 });

// ---------- panel e ----------
const eSets = [
    pointSet(eValues.map((v, i) => ({ x: eOffsets[i], y: v })), "#8b1a10", "rect", 4.6),
    pointSet([{ x: 0, y: eInoculum }], "#000", "rect", 4.6),
    lineSet([[-2.83, eMean], [2.83, eMean]], "#111", 1.2),
    lineSet([[3.375, 103], [4, 103], [4, 56.5], [3.375, 56.5]], "#111", 1.2),
    lineSet([[4, 80.2], [4.95, 80.2]], "#111", 1.2),
    lineSet([[2.83, 26], [4.03, 26]], "#111", 1, { pointStyle: "triangle", pointRadius: [2.6, 0], rotation: -90, pointBackgroundColor: "#111" })
];
panelChart({ left: 525.3, top: 687.3, right: 631, bottom: 869.3 }, { y: 26, x: 2, top: 2, right: 20 }, eSets,
    { min: -3.9, max: 4.03, ticks: { display: false }, grid: { display: false }, afterFit: fixAxis(2) },
    { min: 0, max: 110, afterBuildTicks: ticksAt(eTicks), ticks: { callback: v => eTickLabels.includes(v) ? String(v) : "" } });
note("Wild-type BT (%)", 487.7, 785, { rotate: -90 });
note("In vivo", 582, 663, { center: true });
note("WT/∆BT_1523 competition", 582, 676, { center: true });
note("14 d", 662, 724, { center: true });
note("caecal", 662, 737, { center: true });
note("contents", 662, 749, { center: true });
note("Inoculum", 635, 826);
note("e", 482, 647, { bold: true, size: 12 });
</script>
</body>
</html>
